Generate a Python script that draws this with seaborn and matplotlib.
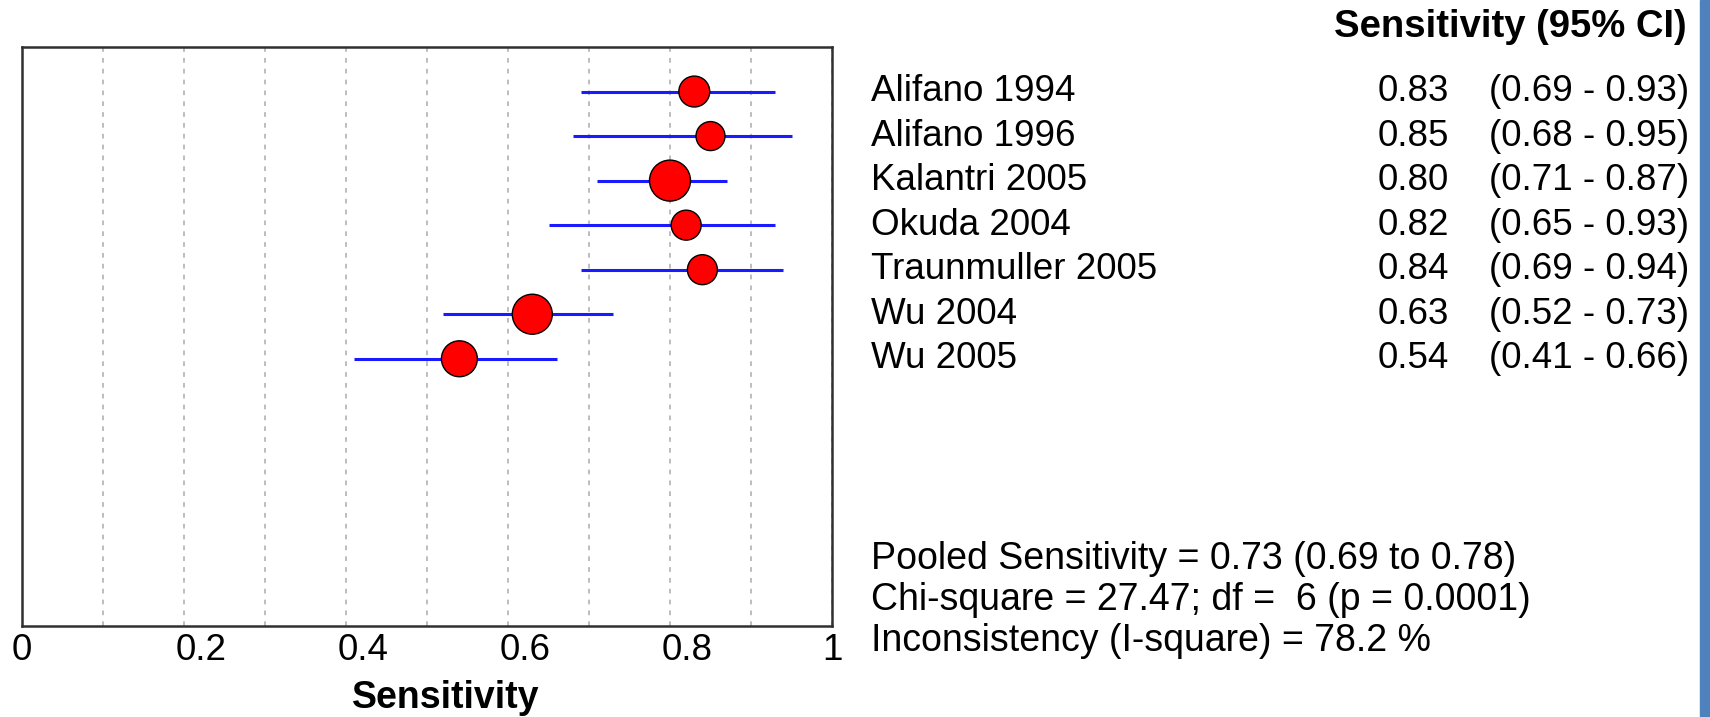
import numpy as np
import pandas as pd
import matplotlib
matplotlib.use("Agg")
import matplotlib.pyplot as plt
import matplotlib.transforms as mtransforms
from matplotlib.patches import Rectangle
import seaborn as sns

# ---------------- data ----------------
studies = ["Alifano 1994", "Alifano 1996", "Kalantri 2005", "Okuda 2004",
           "Traunmuller 2005", "Wu 2004", "Wu 2005"]
sensitivity = [0.83, 0.85, 0.80, 0.82, 0.84, 0.63, 0.54]
ci_low = [0.69, 0.68, 0.71, 0.65, 0.69, 0.52, 0.41]
ci_high = [0.93, 0.95, 0.87, 0.93, 0.94, 0.73, 0.66]
weights = [11.7, 10.3, 20.6, 11.0, 11.0, 19.6, 15.8]   # relative study weight (%)
x_ticks = [0, 0.2, 0.4, 0.6, 0.8, 1]
x_tick_labels = ["0", "0.2", "0.4", "0.6", "0.8", "1"]
header = "Sensitivity (95% CI)"
x_label = "Sensitivity"
stats_lines = ["Pooled Sensitivity = 0.73 (0.69 to 0.78)",
               "Chi-square = 27.47; df =  6 (p = 0.0001)",
               "Inconsistency (I-square) = 78.2 %"]

df = pd.DataFrame({"study": studies, "sens": sensitivity,
                   "lo": ci_low, "hi": ci_high, "w": weights})
df["row"] = np.arange(len(df))

# ---------------- style ----------------
sns.set_style("white")
plt.rcParams["font.family"] = ["Liberation Sans", "DejaVu Sans"]
plt.rcParams["text.color"] = "black"
plt.rcParams["axes.labelcolor"] = "black"
plt.rcParams["xtick.color"] = "black"
plt.rcParams["xtick.labelcolor"] = "black"

W, H = 1710, 717
fig = plt.figure(figsize=(W / 100, H / 100), dpi=100)
fig.patch.set_facecolor("white")
ax = fig.add_axes([22 / W, 1 - 626 / H, 810 / W, 579 / H])

# CI lines
ax.hlines(df["row"], df["lo"], df["hi"], color="#1a1aff", lw=2.2, zorder=3)

# point estimates, area proportional to weight
smax = (41 * 0.72) ** 2
sns.scatterplot(data=df, x="sens", y="row", size="w",
                sizes=(0, smax), size_norm=(0, max(weights)),
                color="#ff0000", edgecolor="black", linewidth=1.0,
                legend=False, ax=ax, zorder=4)

ax.set_xlim(0, 1)
ax.set_ylim(len(df) + 5, -1)
ax.set_yticks([])
ax.set_ylabel("")
ax.set_xticks(x_ticks)
ax.set_xticklabels(x_tick_labels, fontsize=26.5, color="black")
ax.set_xticks(np.arange(0.1, 1.0, 0.1), minor=True)
ax.tick_params(axis="x", which="both", length=0, pad=5)
ax.grid(True, which="both", axis="x", color="#b8b8b8", lw=1.3,
        ls=(0, (2.6, 3.4)))
ax.grid(False, axis="y")
for sp in ax.spines.values():
    sp.set_color("#303030")
    sp.set_linewidth(1.8)
    sp.set_visible(True)

ax.set_xlabel(x_label, fontsize=27, fontweight="bold", color="black")
ax.xaxis.set_label_coords((446 - 22) / 810, -(680 - 626) / 579)

# right-side table
tr = mtransforms.blended_transform_factory(fig.transFigure, ax.transData)
for _, r in df.iterrows():
    ax.text(871 / W, r["row"], r["study"], transform=tr, fontsize=26.5,
            va="center", ha="left", clip_on=False, color="black")
    ax.text(1449 / W, r["row"], f"{r['sens']:.2f}", transform=tr,
            fontsize=26.5, va="center", ha="right", clip_on=False,
            color="black")
    ax.text(1689 / W, r["row"], f"({r['lo']:.2f} - {r['hi']:.2f})",
            transform=tr, fontsize=26.5, va="center", ha="right",
            clip_on=False, color="black")

fig.text(1687 / W, 1 - 37 / H, header, fontsize=27.5, fontweight="bold",
         ha="right", va="baseline", color="black")

for i, line in enumerate(stats_lines):
    fig.text(871 / W, 1 - (569 + 41 * i) / H, line, fontsize=27,
             ha="left", va="baseline", color="black")

# blue bar at right edge
fig.patches.append(Rectangle((1700 / W, 0), 10 / W, 1,
                             transform=fig.transFigure,
                             color="#4f81bd", zorder=0))

# shift middle tick labels slightly right (as in the reference)
for lab in ax.get_xticklabels()[1:-1]:
    lab.set_transform(lab.get_transform() +
                      mtransforms.ScaledTranslation(17 / 100, 0,
                                                    fig.dpi_scale_trans))

fig.savefig("out.png", dpi=100)
